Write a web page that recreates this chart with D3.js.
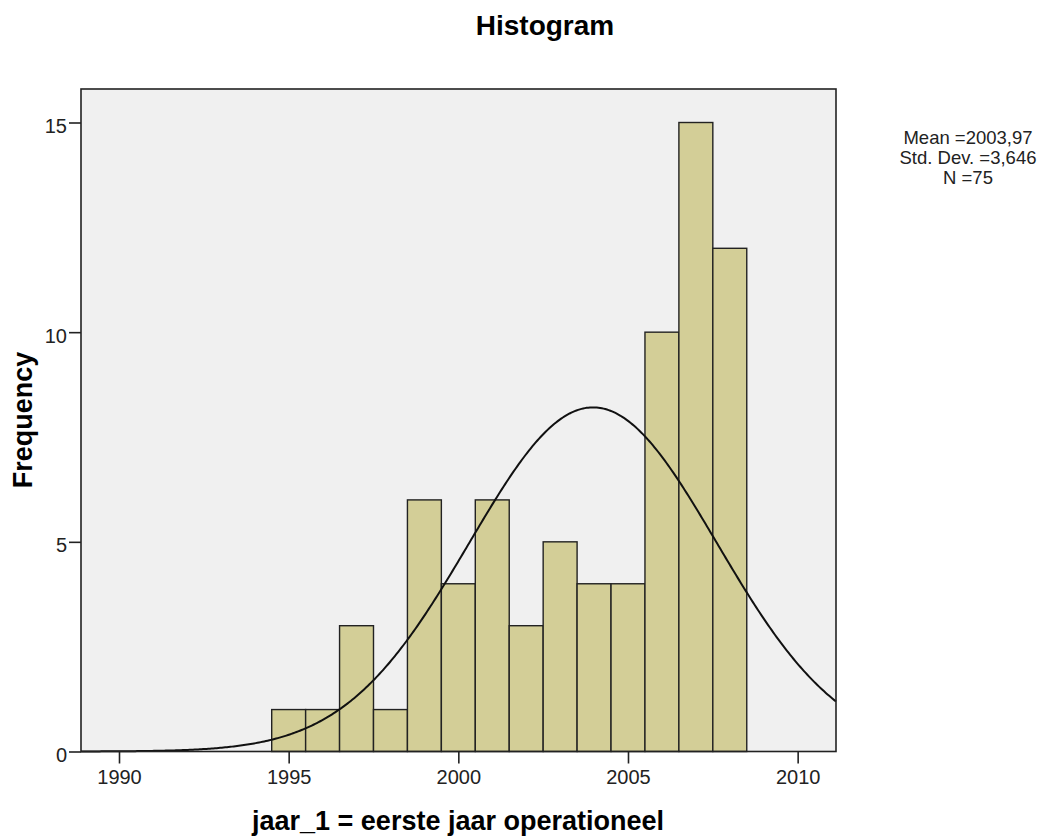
<!DOCTYPE html>
<html>
<head>
<meta charset="utf-8">
<script src="https://cdn.jsdelivr.net/npm/d3@7"></script>
<style>
  body { margin: 0; background: #fff; }
  text { font-family: "Liberation Sans", Arial, sans-serif; }
</style>
</head>
<body>
<svg id="chart" width="1048" height="839"></svg>
<script>
// histogram data: bin start (year - 0.5) and frequency
var binStarts = [1994.5, 1995.5, 1996.5, 1997.5, 1998.5, 1999.5, 2000.5, 2001.5, 2002.5, 2003.5, 2004.5, 2005.5, 2006.5, 2007.5];
var counts    = [1, 1, 3, 1, 6, 4, 6, 3, 5, 4, 4, 10, 15, 12];
var binWidth = 1;
var xTicks = [1990, 1995, 2000, 2005, 2010];
var yTicks = [0, 5, 10, 15];
var statLines = ["Mean =2003,97", "Std. Dev. =3,646", "N =75"];
var mean = 2003.97, sd = 3.646, n = 75;

var svg = d3.select("#chart");
var plotLeft = 81, plotRight = 836, plotTop = 89, plotBottom = 751.5;

var x = d3.scaleLinear().domain([1988.88, 2011.13]).range([plotLeft, plotRight]);
var y = d3.scaleLinear().domain([0, 15]).range([plotBottom, 122.5]);

// plot background
svg.append("rect")
  .attr("x", plotLeft).attr("y", plotTop)
  .attr("width", plotRight - plotLeft).attr("height", plotBottom - plotTop)
  .attr("fill", "#f0f0f0");

// bars
svg.selectAll(".bar")
  .data(counts)
  .enter().append("rect")
  .attr("class", "bar")
  .attr("x", function(d, i) { return x(binStarts[i]); })
  .attr("y", function(d) { return y(d); })
  .attr("width", function(d, i) { return x(binStarts[i] + binWidth) - x(binStarts[i]); })
  .attr("height", function(d) { return plotBottom - y(d); })
  .attr("fill", "#d3ce97")
  .attr("stroke", "#222")
  .attr("stroke-width", 1.4);

// normal curve
var curvePts = d3.range(1988.88, 2011.14, 0.05).map(function(v) {
  var z = (v - mean) / sd;
  return { x: v, y: n * binWidth * Math.exp(-0.5 * z * z) / (sd * Math.sqrt(2 * Math.PI)) };
});
var line = d3.line()
  .x(function(d) { return x(d.x); })
  .y(function(d) { return y(d.y); })
  .curve(d3.curveLinear);
svg.append("path")
  .attr("d", line(curvePts))
  .attr("fill", "none")
  .attr("stroke", "#111")
  .attr("stroke-width", 2);

// frame
svg.append("rect")
  .attr("x", plotLeft).attr("y", plotTop)
  .attr("width", plotRight - plotLeft).attr("height", plotBottom - plotTop)
  .attr("fill", "none")
  .attr("stroke", "#222")
  .attr("stroke-width", 1.6);

// axes
var xAxis = svg.append("g")
  .attr("transform", "translate(0," + plotBottom + ")")
  .call(d3.axisBottom(x).tickValues(xTicks).tickSize(12).tickSizeOuter(0).tickFormat(d3.format("d")));
xAxis.select(".domain").remove();
xAxis.selectAll("line").attr("stroke", "#222").attr("stroke-width", 1.6);
xAxis.selectAll("text").attr("font-size", 20).attr("fill", "#222")
  .attr("y", 32.5).attr("dy", 0);

var yAxis = svg.append("g")
  .attr("transform", "translate(" + plotLeft + ",0)")
  .call(d3.axisLeft(y).tickValues(yTicks).tickSize(12).tickSizeOuter(0));
yAxis.select(".domain").remove();
yAxis.selectAll("line").attr("stroke", "#222").attr("stroke-width", 1.6);
yAxis.selectAll("text").attr("font-size", 20).attr("fill", "#222")
  .attr("x", -14).attr("dy", "0.5em");

// titles
svg.append("text")
  .attr("x", 545).attr("y", 35)
  .attr("text-anchor", "middle")
  .attr("font-size", 28).attr("font-weight", "bold")
  .text("Histogram");

svg.append("text")
  .attr("x", 458).attr("y", 830)
  .attr("text-anchor", "middle")
  .attr("font-size", 27).attr("font-weight", "bold")
  .text("jaar_1 = eerste jaar operationeel");

svg.append("text")
  .attr("transform", "translate(32,420) rotate(-90)")
  .attr("text-anchor", "middle")
  .attr("font-size", 27).attr("font-weight", "bold")
  .text("Frequency");

// stats box
svg.selectAll(".stat")
  .data(statLines)
  .enter().append("text")
  .attr("class", "stat")
  .attr("x", 968)
  .attr("y", function(d, i) { return 144 + i * 20; })
  .attr("text-anchor", "middle")
  .attr("font-size", 18.5)
  .attr("fill", "#222")
  .text(function(d) { return d; });
</script>
</body>
</html>
